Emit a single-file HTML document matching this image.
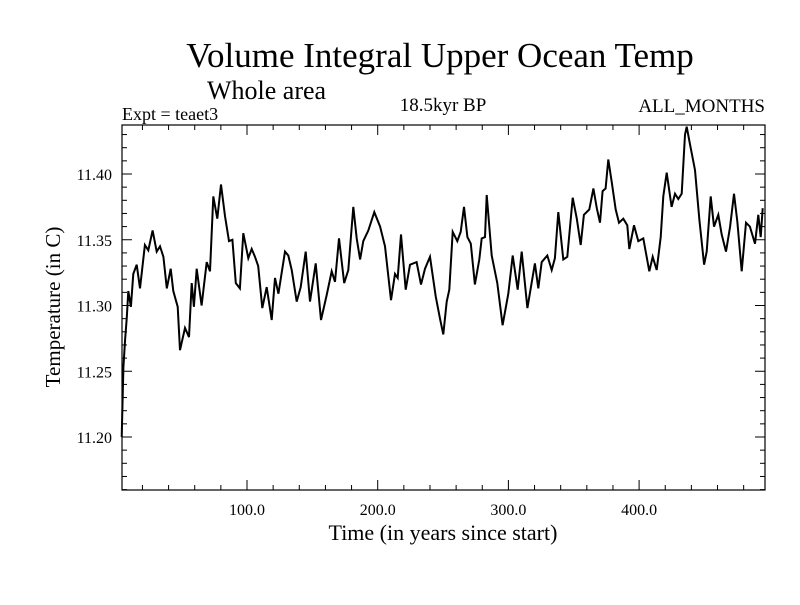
<!DOCTYPE html>
<html><head><meta charset="utf-8"><style>
body{margin:0;background:#fff;width:800px;height:600px;overflow:hidden}
svg text{font-family:"Liberation Serif",serif;fill:#000}
</style></head><body>
<svg id="chart" width="800" height="600" xmlns="http://www.w3.org/2000/svg">
<rect width="800" height="600" fill="#fff"/>
<text x="440" y="67" font-size="35" text-anchor="middle">Volume Integral Upper Ocean Temp</text>
<text x="207" y="99" font-size="26">Whole area</text>
<text x="122" y="120" font-size="18">Expt = teaet3</text>
<text x="443" y="111" font-size="19" text-anchor="middle">18.5kyr BP</text>
<text x="765" y="112" font-size="19" text-anchor="end">ALL_MONTHS</text>
<text x="443" y="540" font-size="22" text-anchor="middle">Time (in years since start)</text>
<text transform="translate(60,307) rotate(-90)" font-size="21" text-anchor="middle">Temperature (in C)</text>
<g id="axes"></g>
<path id="series" fill="none" stroke="#000" stroke-width="2"/>
<rect x="122" y="125" width="643" height="365" fill="none" stroke="#000" stroke-width="1.2"/>
</svg>
<script>
const years=[4.1,5.4,6.7,8.0,9.2,11.2,13.0,15.6,18.1,21.9,24.5,27.8,30.9,33.4,36.0,38.6,41.6,43.6,47.0,48.7,52.6,55.6,57.7,59.4,61.5,65.3,69.2,71.7,74.2,77.3,80.1,83.2,86.2,88.8,91.4,94.6,97.2,101.0,103.6,106.1,108.6,111.7,115.1,118.9,121.4,124.0,129.1,131.6,134.2,138.0,141.1,144.9,148.2,152.6,156.6,161.0,164.8,167.3,170.4,174.4,177.5,181.3,183.9,186.5,189.0,192.8,197.4,201.8,205.6,210.2,213.2,215.3,217.8,221.4,224.7,229.8,233.1,236.2,240.0,244.4,247.7,250.2,252.8,254.8,257.4,260.9,263.5,266.0,268.6,271.2,274.4,277.7,279.6,282.1,283.4,287.2,291.5,295.6,299.9,303.3,307.1,310.2,314.5,317.1,320.3,322.9,325.5,329.8,333.1,335.6,338.2,342.0,345.1,349.2,352.3,355.3,357.8,361.9,365.0,367.6,370.1,372.1,374.4,376.4,379.0,382.1,384.6,387.9,391.0,392.5,396.1,399.4,403.2,407.8,410.4,413.5,416.5,418.5,421.1,424.9,427.5,430.0,432.6,435.1,436.4,438.9,442.8,446.1,449.7,451.7,454.8,457.3,460.6,463.2,466.5,469.6,472.6,475.1,478.5,481.8,484.8,488.7,491.2,493.0,494.6];
const temps=[11.200,11.253,11.274,11.291,11.311,11.299,11.324,11.331,11.313,11.346,11.342,11.357,11.341,11.345,11.337,11.313,11.328,11.311,11.299,11.266,11.283,11.276,11.317,11.299,11.328,11.300,11.333,11.326,11.383,11.366,11.392,11.368,11.349,11.350,11.317,11.313,11.355,11.336,11.343,11.337,11.330,11.298,11.314,11.289,11.321,11.309,11.341,11.338,11.327,11.303,11.314,11.341,11.303,11.332,11.289,11.308,11.326,11.318,11.351,11.317,11.327,11.375,11.351,11.335,11.349,11.357,11.371,11.360,11.345,11.304,11.324,11.321,11.354,11.312,11.331,11.333,11.316,11.328,11.337,11.307,11.290,11.278,11.303,11.312,11.356,11.349,11.356,11.375,11.352,11.347,11.316,11.335,11.351,11.352,11.384,11.338,11.317,11.285,11.309,11.338,11.312,11.341,11.298,11.313,11.332,11.313,11.333,11.338,11.327,11.336,11.371,11.335,11.337,11.382,11.366,11.346,11.369,11.373,11.389,11.374,11.363,11.387,11.389,11.411,11.394,11.373,11.363,11.366,11.361,11.343,11.361,11.349,11.351,11.326,11.337,11.327,11.352,11.383,11.401,11.375,11.385,11.381,11.385,11.430,11.436,11.423,11.403,11.365,11.331,11.341,11.383,11.360,11.369,11.354,11.341,11.360,11.385,11.364,11.326,11.363,11.360,11.347,11.369,11.352,11.374];
const xTickLabels=["100.0","200.0","300.0","400.0"];
const xTickValues=[100,200,300,400];
const yTickLabels=["11.20","11.25","11.30","11.35","11.40"];
const yTickValues=[11.20,11.25,11.30,11.35,11.40];

const X0=122,X1=765,Y0=125,Y1=490;
function xs(v){return 116.3+v*1.307;}
function ys(v){return 174+(11.40-v)*1315;}
const NS="http://www.w3.org/2000/svg";
const axes=document.getElementById('axes');
function line(x1,y1,x2,y2,name){
  const l=document.createElementNS(NS,'line');
  l.setAttribute('x1',x1);l.setAttribute('y1',y1);l.setAttribute('x2',x2);l.setAttribute('y2',y2);
  l.setAttribute('stroke','#000');l.setAttribute('stroke-width','1');
  
  
  axes.appendChild(l);
}
function text(x,y,s,anchor,name){
  const t=document.createElementNS(NS,'text');
  t.setAttribute('x',x);t.setAttribute('y',y);t.setAttribute('font-size','16');t.setAttribute('text-anchor',anchor);
  t.textContent=s;
  
  
  axes.appendChild(t);
}
for(let v=20;v<500;v+=20){
  const x=xs(v);const len=(v%100===0)?10:5;
  line(x,Y1,x,Y1-len,'x-tick');
  line(x,Y0,x,Y0+len,'x-tick');
}
for(let i=0;i<xTickValues.length;i++){text(xs(xTickValues[i]),515,xTickLabels[i],'middle','x-tick-label');}
for(let k=1116;k<=1143;k++){
  const v=k/100;const y=ys(v);if(y<Y0||y>Y1)continue;const len=(k%5===0)?10:5;
  line(X0,y,X0+len,y,'y-tick');
  line(X1,y,X1-len,y,'y-tick');
}
for(let i=0;i<yTickValues.length;i++){text(112,ys(yTickValues[i])+6,yTickLabels[i],'end','y-tick-label');}
let d='';
for(let i=0;i<years.length;i++){d+=(i?'L':'M')+xs(years[i]).toFixed(1)+' '+ys(temps[i]).toFixed(1);}
document.getElementById('series').setAttribute('d',d);
</script>
</body></html>
